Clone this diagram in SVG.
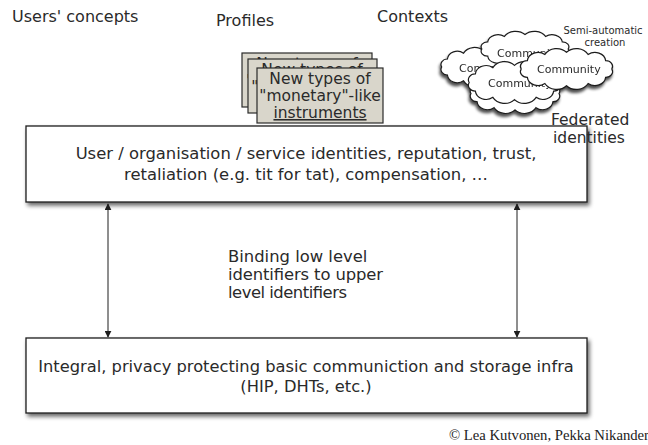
<svg xmlns="http://www.w3.org/2000/svg" xmlns:xlink="http://www.w3.org/1999/xlink" width="648" height="445" viewBox="0 0 648 445">
  <style>
    .lbl { font-family: "DejaVu Sans", "Noto Sans", sans-serif; fill: #2a2a2a; }
    .box { fill: #ffffff; stroke: #1e1e1e; stroke-width: 1.3; }
    .card { fill: #d9d6cb; stroke: #2a2a2a; stroke-width: 1.2; }
    .cloudtxt { font-family: "DejaVu Sans", sans-serif; font-size: 11px; fill: #2a2a2a; }
    .conn { stroke: #1e1e1e; stroke-width: 1; fill: none; }
  </style>
  <defs>
    <filter id="shadow" x="-10%" y="-20%" width="125%" height="150%">
      <feGaussianBlur in="SourceAlpha" stdDeviation="2"/>
      <feOffset dx="2" dy="3" result="b"/>
      <feComponentTransfer><feFuncA type="linear" slope="0.6"/></feComponentTransfer>
      <feMerge><feMergeNode/><feMergeNode in="SourceGraphic"/></feMerge>
    </filter>
    <filter id="cshadow" x="-20%" y="-30%" width="140%" height="170%">
      <feGaussianBlur in="SourceAlpha" stdDeviation="1.8"/>
      <feOffset dx="-1" dy="3"/>
      <feComponentTransfer><feFuncA type="linear" slope="0.7"/></feComponentTransfer>
      <feMerge><feMergeNode/><feMergeNode in="SourceGraphic"/></feMerge>
    </filter>
    <!-- bumpy cloud outline, roughly 2..98 x 0..50 -->
    <path id="cloud" vector-effect="non-scaling-stroke" fill="#ffffff" stroke="#1e1e1e" stroke-width="1.2"
      d="M6,25 A6.5,6.5 0 0 1 12,15.5 A10.5,10.5 0 0 1 29,8.5 A13,13 0 0 1 50,6 A13,13 0 0 1 71,8.5 A10.5,10.5 0 0 1 88,15.5 A6.5,6.5 0 0 1 94,25 A6.5,6.5 0 0 1 88,34.5 A10.5,10.5 0 0 1 71,41.5 A13,13 0 0 1 50,44 A13,13 0 0 1 29,41.5 A10.5,10.5 0 0 1 12,34.5 A6.5,6.5 0 0 1 6,25 Z"/>
    <marker id="arr" viewBox="0 0 10 10" refX="9" refY="5" markerWidth="7" markerHeight="7" orient="auto-start-reverse" markerUnits="userSpaceOnUse">
      <path d="M0,0 L10,5 L0,10 Z" fill="#1e1e1e"/>
    </marker>
  </defs>

  <rect width="648" height="445" fill="#ffffff"/>

  <!-- column headings -->
  <g id="headings" class="lbl" font-size="16">
    <text x="12" y="22">Users' concepts</text>
    <text x="216" y="26">Profiles</text>
    <text x="377" y="22">Contexts</text>
  </g>

  <!-- stacked instrument cards -->
  <g id="cards" class="lbl" font-size="15.5" text-anchor="middle">
    <g id="card-back">
      <rect class="card" x="242" y="53" width="130" height="54"/>
      <text x="307" y="69">New types of</text>
      <text x="307" y="86">"monetary"-like</text>
    </g>
    <g id="card-mid">
      <rect class="card" x="248" y="59" width="129" height="54"/>
      <text x="312" y="75">New types of</text>
      <text x="312" y="92">"monetary"-like</text>
    </g>
    <g id="card-front">
      <rect class="card" x="257" y="68" width="126" height="55"/>
      <text x="320" y="84">New types of</text>
      <text x="320" y="101">"monetary"-like</text>
      <text x="320" y="118" text-decoration="underline">instruments</text>
    </g>
  </g>

  <!-- community clouds -->
  <g id="clouds" filter="url(#cshadow)">
    <g id="cloud-a">
      <use xlink:href="#cloud" transform="translate(436,46) scale(0.95,0.84)"/>
      <text class="cloudtxt" x="459" y="72">Community</text>
    </g>
    <g id="cloud-b">
      <use xlink:href="#cloud" transform="translate(476,30) scale(0.98,0.76)"/>
      <text class="cloudtxt" x="497" y="57">Community</text>
    </g>
    <g id="cloud-e">
      <use xlink:href="#cloud" transform="translate(465,72) scale(1.0,0.86)"/>
    </g>
    <g id="cloud-c">
      <use xlink:href="#cloud" transform="translate(463,60) scale(1.03,0.9)"/>
      <text class="cloudtxt" x="488" y="87">Community</text>
    </g>
    <g id="cloud-d">
      <use xlink:href="#cloud" transform="translate(515,47) scale(1.03,0.88)"/>
      <text class="cloudtxt" x="537" y="73">Community</text>
    </g>
  </g>

  <g id="semi-auto" class="lbl" font-size="10" text-anchor="middle">
    <text x="603" y="34">Semi-automatic</text>
    <text x="605" y="46">creation</text>
  </g>

  <!-- upper layer -->
  <g id="identity-layer">
    <rect class="box" x="26" y="126" width="561" height="76" filter="url(#shadow)"/>
    <text class="lbl" font-size="16.4" text-anchor="middle" x="306" y="159">User / organisation / service identities, reputation, trust,</text>
    <text class="lbl" font-size="16.4" text-anchor="middle" x="306" y="180">retaliation (e.g. tit for tat), compensation, …</text>
  </g>

  <g id="federated" class="lbl" font-size="15.5">
    <text x="551" y="125">Federated</text>
    <text x="553" y="143">identities</text>
  </g>

  <!-- lower layer -->
  <g id="infra-layer">
    <rect class="box" x="26" y="338" width="561" height="75" filter="url(#shadow)"/>
    <text class="lbl" font-size="16.3" text-anchor="middle" x="306" y="372">Integral, privacy protecting basic communiction and storage infra</text>
    <text class="lbl" font-size="16.3" text-anchor="middle" x="306" y="392">(HIP, DHTs, etc.)</text>
  </g>

  <!-- binding connectors -->
  <g id="connectors">
    <line class="conn" x1="108" y1="204" x2="108" y2="337" marker-start="url(#arr)" marker-end="url(#arr)"/>
    <line class="conn" x1="517" y1="204" x2="517" y2="337" marker-start="url(#arr)" marker-end="url(#arr)"/>
  </g>

  <g id="binding-label" class="lbl" font-size="16.4">
    <text x="228" y="262">Binding low level</text>
    <text x="228" y="280" textLength="155" lengthAdjust="spacing">identifiers to upper</text>
    <text x="228" y="298" textLength="119" lengthAdjust="spacing">level identifiers</text>
  </g>

  <text id="credit" x="649" y="440" text-anchor="end" font-family="'Liberation Serif', serif" font-size="14.7" fill="#222">© Lea Kutvonen, Pekka Nikander</text>
</svg>
